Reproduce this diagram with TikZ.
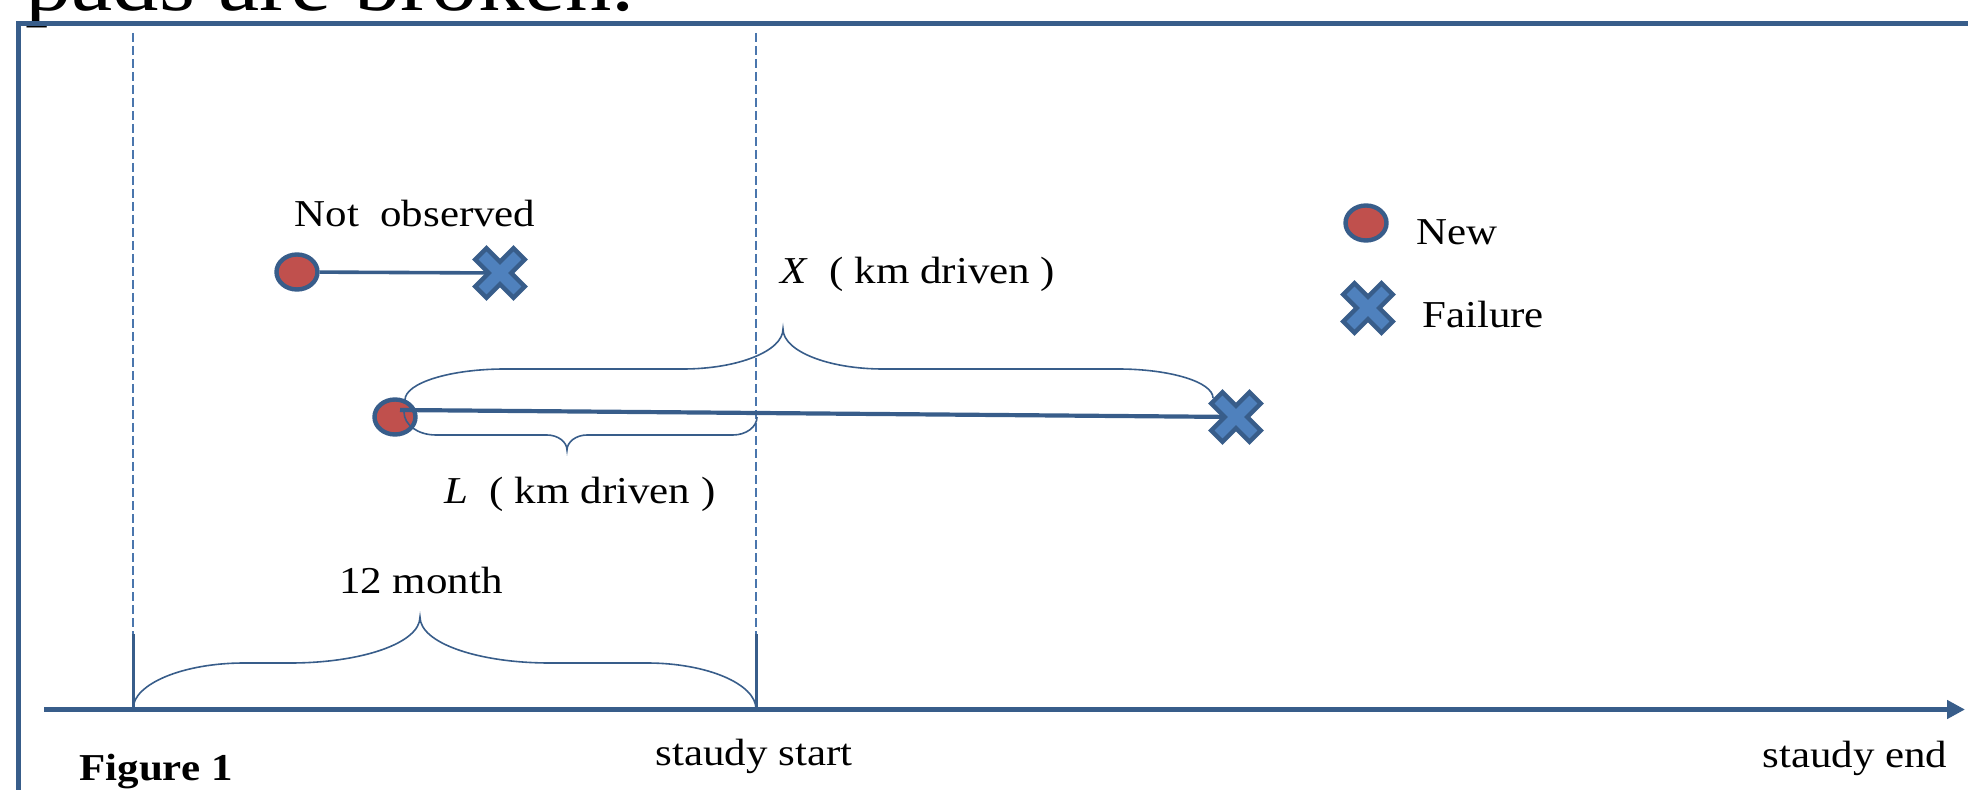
\documentclass[tikz,border=0pt]{standalone}
\usepackage{fontspec}
\setmainfont{Liberation Serif}[FakeStretch=1.13]
\usetikzlibrary{shapes.geometric,arrows.meta}
\definecolor{edgeblue}{HTML}{385D8A}
\definecolor{dotred}{HTML}{C0504D}
\definecolor{xblue}{HTML}{4F81BD}
\definecolor{guideblue}{HTML}{4A76AD}
\tikzset{
  newdot/.style={ellipse, draw=edgeblue, fill=dotred, line width=2.2pt,
    minimum width=20.5pt, minimum height=17.5pt, inner sep=0pt},
  failx/.pic={\draw[draw=edgeblue, fill=xblue, line width=2.2pt, rotate=45]
    (8,8) -- (27,8) -- (27,-8) -- (8,-8) -- (8,-27) -- (-8,-27) -- (-8,-8)
    -- (-27,-8) -- (-27,8) -- (-8,8) -- (-8,27) -- (8,27) -- cycle;},
  link/.style={draw=edgeblue, line width=1.8pt},
  bracepath/.style={draw=edgeblue, line width=0.8pt},
  guide/.style={draw=guideblue, line width=0.8pt, dash pattern=on 4.5pt off 2pt},
  tickline/.style={draw=edgeblue, line width=1.5pt},
  axisline/.style={draw=edgeblue, line width=2.6pt, -{Triangle[length=9pt,width=9pt]}},
  lbl/.style={font=\fontsize{19}{22}\selectfont, inner sep=0pt, anchor=base},
}
\begin{document}
\begin{tikzpicture}[x=0.5pt,y=-0.5pt]
\useasboundingbox (0,0) rectangle (1968,790);
\clip (0,0) rectangle (1968,790);

% heading running above the frame
\node[font=\fontsize{41}{41}\selectfont, inner sep=0pt, anchor=base west] (head) at (25,11) {pads are broken.};

% frame
\draw[edgeblue, line width=2.5pt] (18,1000) -- (18,23.5) -- (2100,23.5);

% guide lines and ticks at the window limits
\draw[guide] (133,33) -- (133,634);
\draw[guide] (756,33) -- (756,634);
\draw[tickline] (133,634) -- (133,709.5);
\draw[tickline] (756,634) -- (756,709.5);

% time axis
\coordinate (ax0) at (44,709.5);
\coordinate (ax1) at (1965,709.5);
\draw[axisline] (ax0) -- (ax1);

% 12 month brace
\draw[bracepath] (133,709) .. controls +(0,-25) and +(-61,0) .. (244,663) -- (290,663)
  .. controls +(72,0) and +(0,26) .. (420,617)
  .. controls +(0,26) and +(-72,0) .. (550,663) -- (647,663)
  .. controls +(60,0) and +(0,-25) .. (756,709);

% not observed pair
\node[newdot] (c1) at (297,272) {};
\coordinate (f1) at (500,273);
\draw[link] (c1) -- (f1);
\pic at (f1) {failx};

% observed pair
\node[newdot] (c2) at (395,417) {};
\coordinate (f2) at (1236,417);
\draw[link, line width=2.1pt] ([xshift=2.5pt,yshift=3.5pt]c2.center) -- (f2);

% X brace (above)
\draw[bracepath] (405,400) .. controls +(0,-17) and +(-55,0) .. (505,369) -- (683,369)
  .. controls +(55,0) and +(0,22) .. (783,329)
  .. controls +(0,22) and +(-55,0) .. (883,369) -- (1118,369)
  .. controls +(52,0) and +(0,-16) .. (1213,398);

% L brace (below)
\draw[bracepath] (404,412) .. controls +(0,13) and +(-18,0) .. (436,435) -- (547,435)
  .. controls +(11,0) and +(0,-8) .. (567,450)
  .. controls +(0,-8) and +(-11,0) .. (587,435) -- (733,435)
  .. controls +(13,0) and +(0,10) .. (757,417);

\pic at (f2) {failx};

% legend
\node[newdot] (c3) at (1366,223) {};
\coordinate (f3) at (1368,308);
\pic at (f3) {failx};

% labels
\node[lbl] (tNot) at (415,227) {Not\ \ observed};
\node[lbl] (tX) at (918,284) {\textit{X}\ \ ( km driven )};
\node[lbl] (tL) at (580,503) {\textit{L}\ \ ( km driven )};
\node[lbl] (t12) at (421,593) {12 month};
\node[lbl] (tNew) at (1457,245) {New};
\node[lbl] (tFail) at (1483,328) {Failure};
\node[lbl] (tStart) at (754,765) {staudy start};
\node[lbl] (tEnd) at (1855,767) {staudy end};
\node[lbl, font=\fontsize{19}{22}\selectfont\bfseries] (tFig) at (156,780) {Figure 1};
\end{tikzpicture}
\end{document}
